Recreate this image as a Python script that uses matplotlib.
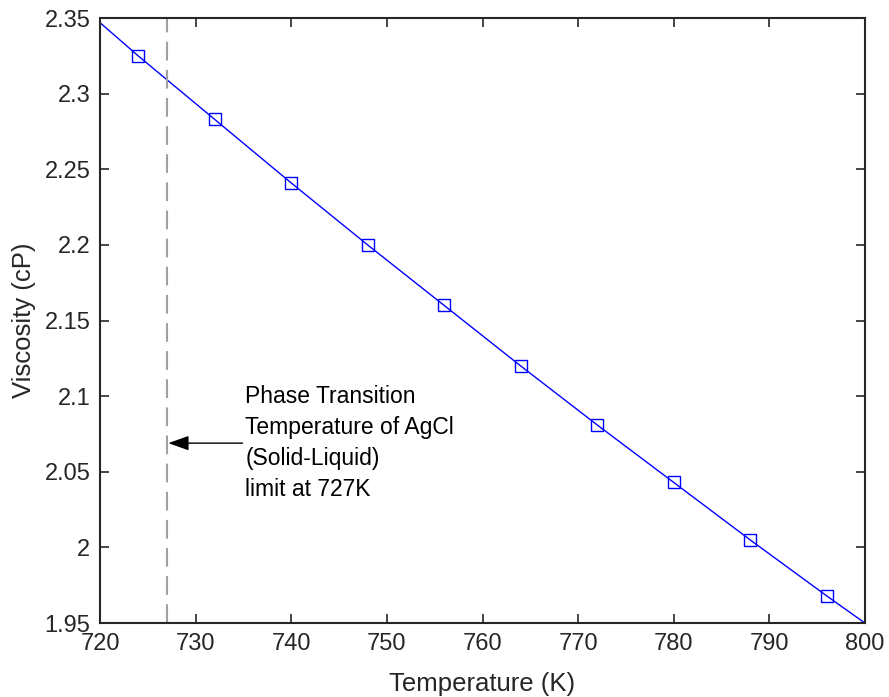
import matplotlib
matplotlib.use("Agg")
import matplotlib.pyplot as plt

plt.rcParams['font.family'] = ['Liberation Sans', 'DejaVu Sans']

# measured points
temps = [724, 732, 740, 748, 756, 764, 772, 780, 788, 796]
visc = [2.325, 2.283, 2.241, 2.200, 2.160, 2.120, 2.081, 2.043, 2.005, 1.968]

# fitted line across the full range
line_t = [720, 724, 732, 740, 748, 756, 764, 772, 780, 788, 796, 800]
line_v = [2.347, 2.325, 2.283, 2.241, 2.200, 2.160, 2.120, 2.081, 2.043, 2.005, 1.968, 1.950]

transition_t = 727
note = "Phase Transition\nTemperature of AgCl\n(Solid-Liquid)\nlimit at 727K"

dark = '#262626'

fig = plt.figure(figsize=(8.89, 6.97), dpi=100)
ax = fig.add_axes([0.1125, 0.106, 0.8605, 0.868])

ax.plot(line_t, line_v, '-', color='#0000ff', lw=1.0)
ax.plot(temps, visc, 's', color='#0000ff', mfc='none', ms=9, mew=1.0)
ax.axvline(transition_t, color='#a0a0a0', lw=1.5, dashes=(9, 4.5))

ax.annotate(note, xy=(transition_t, 2.069), xytext=(735.2, 2.069),
            fontsize=16.5, color='black', va='center', ha='left', linespacing=1.45,
            arrowprops=dict(arrowstyle='-|>,head_length=0.7,head_width=0.25',
                            color='black', lw=1.0,
                            mutation_scale=18, shrinkA=0, shrinkB=1))

ax.set_xlim(720, 800)
ax.set_ylim(1.95, 2.35)
ax.set_xticks(range(720, 801, 10))
ax.set_yticks([1.95, 2.0, 2.05, 2.1, 2.15, 2.2, 2.25, 2.3, 2.35])
ax.set_yticklabels(['1.95', '2', '2.05', '2.1', '2.15', '2.2', '2.25', '2.3', '2.35'])

ax.tick_params(direction='in', top=True, right=True, length=6.5, width=1.2,
               labelsize=17, colors=dark, pad=7)
for s in ax.spines.values():
    s.set_color(dark)
    s.set_linewidth(1.5)

ax.set_xlabel('Temperature (K)', fontsize=18.5, color=dark, labelpad=12)
ax.set_ylabel('Viscosity (cP)', fontsize=18.5, color=dark, labelpad=6)

fig.savefig('out.png', dpi=100)
